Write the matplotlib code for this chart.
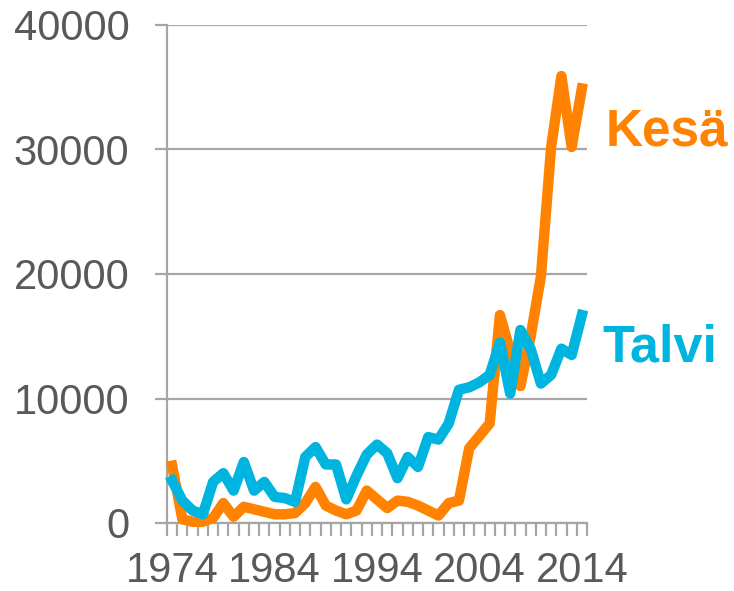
import matplotlib
matplotlib.use("Agg")
from matplotlib import pyplot as plt # For graphing
from matplotlib.ticker import FixedLocator

plt.rcParams['font.family'] = ['Liberation Sans', 'DejaVu Sans']

# Data
years = list(range(1974, 2015))
kesa = [4600, 300, 100, 100, 400, 1600, 500, 1300, 1100, 900,
        700, 700, 800, 1600, 2900, 1400, 1000, 700, 1000, 2600,
        1900, 1200, 1800, 1700, 1400, 1000, 600, 1600, 1800, 6000,
        7000, 8000, 16700, 13800, 11000, 15000, 19800, 30200, 35900, 30200,
        34900]
talvi = [3400, 1800, 1000, 700, 3300, 4000, 2600, 4900, 2600, 3300,
         2100, 2000, 1700, 5300, 6100, 4700, 4700, 1900, 3800, 5500,
         6300, 5600, 3600, 5300, 4500, 6900, 6700, 8000, 10700, 10900,
         11300, 11900, 14500, 10400, 15500, 14000, 11200, 11900, 14000, 13500,
         16700]
y_ticks = [0, 10000, 20000, 30000, 40000]
x_labels = [1974, 1984, 1994, 2004, 2014]

orange = "#FF8200"
blue = "#00B4E0"
grid_grey = "#A6A6A6"
text_grey = "#595959"

fig = plt.figure(figsize=(7.34, 5.91), dpi=100)
ax = fig.add_axes([167 / 734, 1 - 523 / 591, 420 / 734, 498 / 591])

x = [y - years[0] for y in years] # category positions
ax.plot(x, kesa, color=orange, lw=7.5, solid_joinstyle="round", clip_on=False, zorder=3)
ax.plot(x, talvi, color=blue, lw=7.5, solid_joinstyle="round", clip_on=False, zorder=4)

ax.set_xlim(-0.5, len(years) - 0.5)
ax.set_ylim(0, 40000)

# Grid + axes look
ax.set_yticks(y_ticks)
ax.set_yticklabels([str(v) for v in y_ticks])
ax.yaxis.grid(True, color=grid_grey, lw=1.6)
ax.set_axisbelow(True)
for side in ["top", "right"]:
    ax.spines[side].set_visible(False)
for side in ["left", "bottom"]:
    ax.spines[side].set_color(grid_grey)
    ax.spines[side].set_linewidth(1.6)

ax.set_xticks([y - years[0] for y in x_labels])
ax.set_xticklabels([str(y) for y in x_labels])
ax.xaxis.set_minor_locator(FixedLocator([i - 0.5 for i in range(len(years) + 1)]))

ax.tick_params(axis="y", which="major", direction="out", length=9, width=1.6,
               color=grid_grey, labelsize=30, labelcolor=text_grey, pad=18)
ax.tick_params(axis="x", which="major", length=0, labelsize=30, labelcolor=text_grey, pad=20)
ax.tick_params(axis="x", which="minor", direction="out", length=9, width=1.6, color=grid_grey)

# Series names next to the line ends
fig.text(606 / 734, 1 - 145 / 591, "Kesä", color=orange, fontsize=37,
         fontweight="bold", va="baseline", ha="left")
fig.text(602 / 734, 1 - 362 / 591, "Talvi", color=blue, fontsize=37.5,
         fontweight="bold", va="baseline", ha="left")

fig.savefig("out.png", dpi=100)
